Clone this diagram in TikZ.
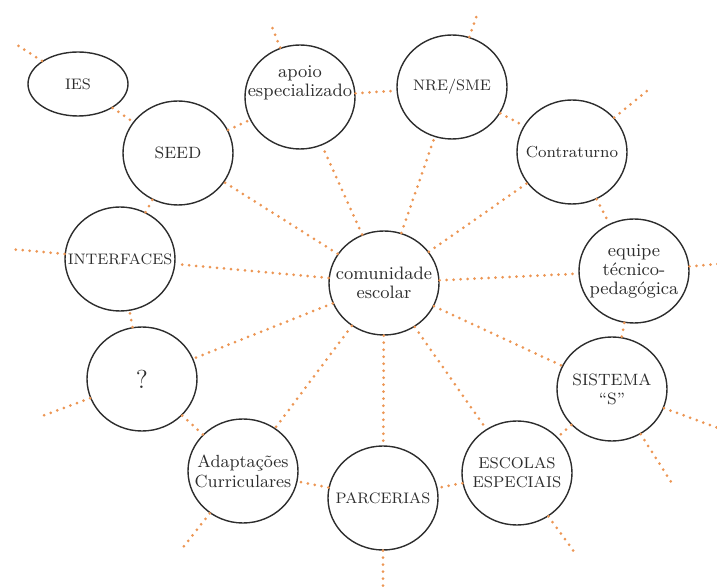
\documentclass[tikz,border=0pt]{standalone}
\usetikzlibrary{shapes.geometric}
\definecolor{dotorange}{RGB}{236,150,84}
\definecolor{inkgray}{RGB}{45,45,45}

\begin{document}
\begin{tikzpicture}[x=0.5pt,y=-0.5pt,
        bubble/.style={ellipse,draw=inkgray,line width=0.7pt,minimum width=55pt,minimum height=52pt,inner sep=-30pt,align=center,text=inkgray,font=\fontsize{9}{9.5}\selectfont},
        capsbubble/.style={bubble,font=\fontsize{7.6}{9.5}\selectfont},
        link/.style={dotorange,line width=1.5pt,line cap=round,dash pattern=on 0pt off 3.5pt}]
        \useasboundingbox (0,0) rectangle (717,587);
        \node [capsbubble,minimum width=50pt,minimum height=32pt] (ies) at (78,84) {IES};
        \node [capsbubble,font=\fontsize{8.2}{9.5}\selectfont] (seed) at (178,153) {SEED};
        \node [bubble] (apoio) at (300,97) {apoio\\especializado\\[6pt]};
        \node [capsbubble] (nre) at (452,87) {NRE/SME};
        \node [bubble,font=\fontsize{8}{9.5}\selectfont] (contra) at (572,152) {Contraturno};
        \node [capsbubble] (interf) at (120,259) {INTERFACES};
        \node [bubble] (comun) at (384,283) {comunidade\\escolar};
        \node [bubble] (equipe) at (634,271) {equipe\\técnico-\\pedagógica};
        \node [bubble,font=\fontsize{13}{14}\selectfont] (quest) at (142,379) {?};
        \node [capsbubble,font=\fontsize{8.2}{9.5}\selectfont] (sist) at (612,389) {SISTEMA\\“S”};
        \node [bubble,font=\fontsize{8.8}{10}\selectfont] (adapt) at (243,471) {Adaptações\\Curriculares};
        \node [capsbubble] (parc) at (383,498) {PARCERIAS};
        \node [capsbubble,font=\fontsize{7.8}{9.5}\selectfont] (escol) at (517,473) {ESCOLAS\\ESPECIAIS};
        \coordinate (iesend) at (17,45);
        \coordinate (apoioend) at (270,22);
        \coordinate (nreend) at (478,12);
        \coordinate (contraend) at (648,90);
        \coordinate (equipeend) at (718,264);
        \coordinate (sistend1) at (718,428);
        \coordinate (sistend2) at (673,485);
        \coordinate (escolend) at (575,553);
        \coordinate (parcend) at (383,588);
        \coordinate (adaptend) at (181,550);
        \coordinate (questend) at (42,416);
        \coordinate (interfend) at (10,249);
        % spokes from the centre
        \draw[link] (comun) -- (seed);
        \draw[link] (comun) -- (apoio);
        \draw[link] (comun) -- (nre);
        \draw[link] (comun) -- (contra);
        \draw[link] (comun) -- (equipe);
        \draw[link] (comun) -- (sist);
        \draw[link] (comun) -- (escol);
        \draw[link] (comun) -- (parc);
        \draw[link] (comun) -- (adapt);
        \draw[link] (comun) -- (quest);
        \draw[link] (comun) -- (interf);
        % outer ring
        \draw[link] (ies) -- (seed);
        \draw[link] (seed) -- (apoio);
        \draw[link] (apoio) -- (nre);
        \draw[link] (nre) -- (contra);
        \draw[link] (contra) -- (equipe);
        \draw[link] (equipe) -- (sist);
        \draw[link] (sist) -- (escol);
        \draw[link] (escol) -- (parc);
        \draw[link] (parc) -- (adapt);
        \draw[link] (adapt) -- (quest);
        \draw[link] (quest) -- (interf);
        \draw[link] (interf) -- (seed);
        % loose ends
        \draw[link] (ies) -- (iesend);
        \draw[link] (apoio) -- (apoioend);
        \draw[link] (nre) -- (nreend);
        \draw[link] (contra) -- (contraend);
        \draw[link] (equipe) -- (equipeend);
        \draw[link] (sist) -- (sistend1);
        \draw[link] (sist) -- (sistend2);
        \draw[link] (escol) -- (escolend);
        \draw[link] (parc) -- (parcend);
        \draw[link] (adapt) -- (adaptend);
        \draw[link] (quest) -- (questend);
        \draw[link] (interf) -- (interfend);
\end{tikzpicture}
\end{document}
